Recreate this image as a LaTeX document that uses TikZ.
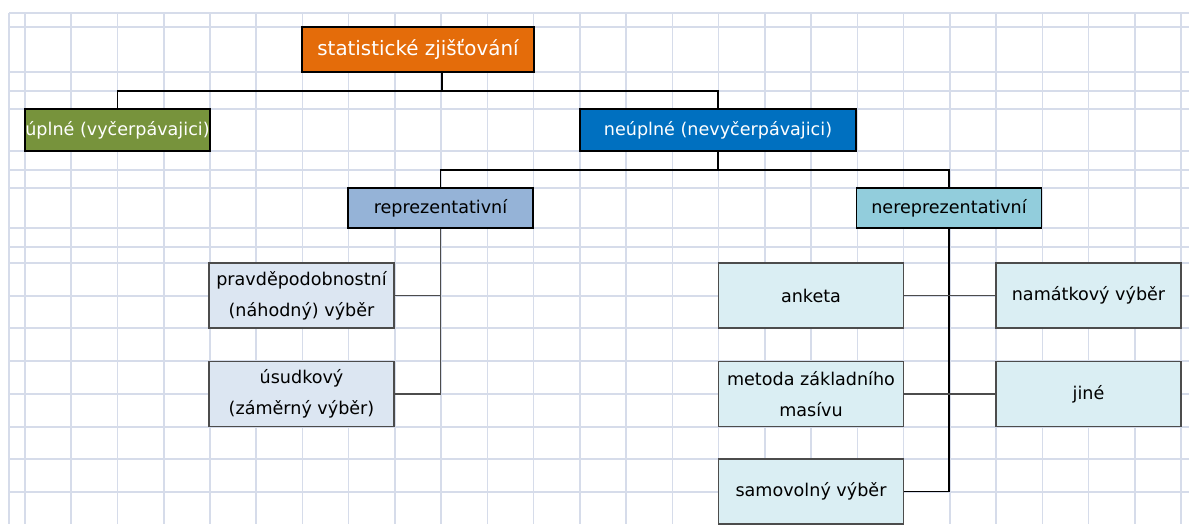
\documentclass[tikz,border=0pt]{standalone}
\usepackage{fontspec}
\setmainfont{DejaVu Sans}
\usepackage{xcolor}
\usepackage{tikz}
\usetikzlibrary{positioning}

\definecolor{orangebox}{HTML}{E46C0A}
\definecolor{greenbox}{HTML}{77933C}
\definecolor{bluebox}{HTML}{0070C0}
\definecolor{reprbox}{HTML}{95B3D7}
\definecolor{nereprbox}{HTML}{92CDDC}
\definecolor{leftfill}{HTML}{DCE6F2}
\definecolor{rightfill}{HTML}{DAEEF3}
\definecolor{gridline}{HTML}{D6DCEA}

\tikzset{
  headbox/.style={draw=black, line width=0.8pt, inner sep=0pt, text=white, font=\fontsize{10}{12}\selectfont},
  groupbox/.style={draw=black, line width=0.8pt, inner sep=0pt, minimum width=3.7cm, minimum height=0.8cm, font=\fontsize{10}{12}\selectfont},
  leafbox/.style={draw=black!70, line width=0.8pt, inner sep=0pt, minimum width=3.7cm, minimum height=1.3cm, align=center, font=\fontsize{10}{17.5}\selectfont},
  link/.style={line width=0.8pt},
  sublink/.style={line width=0.8pt, black!70}
}

\begin{document}
\begin{tikzpicture}[x=0.02cm, y=0.02cm]
            \useasboundingbox (0,0) rectangle (1189,-524);
            % Sheet grid
            \foreach \i in {0,...,25}
              \draw[gridline, line width=0.9pt] ({25+46.24*\i},-13) -- ({25+46.24*\i},-524);
            \draw[gridline, line width=0.9pt] (9,-13) -- (9,-524);
            \foreach \y in {13,27,72,91,109,151,170,188,228,247,263,296,328,361,394,427,459,492}
              \draw[gridline, line width=0.9pt] (9,-\y) -- (1189,-\y);
            % Define top levels
            \node[headbox, fill=orangebox, minimum width=4.64cm, minimum height=0.9cm, font=\fontsize{11.3}{13}\selectfont] (stat) at (418,-49.5) {statistické zjišťování};
            \node[headbox, fill=greenbox, minimum width=3.7cm, minimum height=0.84cm] (uplne) at (117.5,-130) {úplné (vyčerpávajici)};
            \node[headbox, fill=bluebox, minimum width=5.52cm, minimum height=0.84cm] (neuplne) at (718,-130) {neúplné (nevyčerpávajici)};
            \node[groupbox, fill=reprbox] (repr) at (440.5,-208) {reprezentativní};
            \node[groupbox, fill=nereprbox] (nerepr) at (949,-208) {nereprezentativní};
            % Define leaves
            \node[leafbox, fill=leftfill] (pravd) at (301.5,-295.5) {pravděpodobnostní\\(náhodný) výběr};
            \node[leafbox, fill=leftfill] (usud) at (301.5,-394) {úsudkový\\(záměrný výběr)};
            \node[leafbox, fill=rightfill] (anketa) at (811,-295.5) {anketa};
            \node[leafbox, fill=rightfill] (metoda) at (811,-394) {metoda základního\\masívu};
            \node[leafbox, fill=rightfill] (samo) at (811,-491.5) {samovolný výběr};
            \node[leafbox, fill=rightfill] (namat) at (1088.5,-295.5) {namátkový výběr};
            \node[leafbox, fill=rightfill] (jine) at (1088.5,-394) {jiné};
            % Connectors
            \coordinate (bus-1) at (442,-91);
            \coordinate (bus-2) at (718,-170);
            \draw[link] (stat.south -| bus-1) -- (bus-1);
            \draw[link] (uplne.north) |- (bus-1) -| (neuplne.north);
            \draw[link] (neuplne.south) -- (bus-2);
            \draw[link] (repr.north) |- (bus-2) -| (nerepr.north);
            \draw[sublink] (repr.south) |- (usud.east);
            \draw[sublink] (pravd.east) -| (repr.south);
            \draw[link] (nerepr.south) |- (samo.east);
            \draw[sublink] (anketa.east) -- (namat.west);
            \draw[sublink] (metoda.east) -- (jine.west);
        \end{tikzpicture}
\end{document}
